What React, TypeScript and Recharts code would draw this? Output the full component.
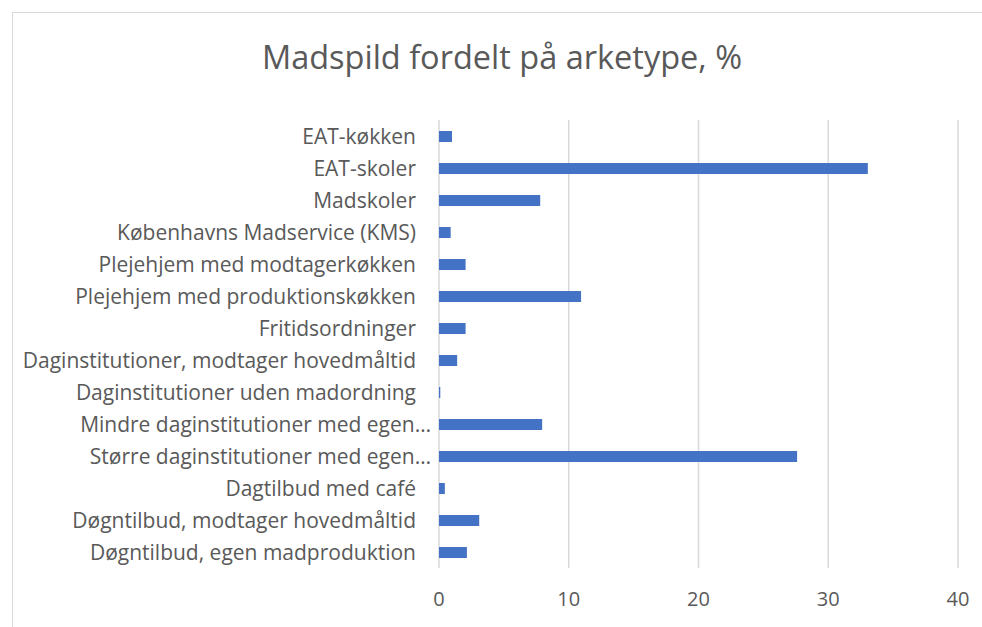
import { BarChart, Bar, XAxis, YAxis, CartesianGrid } from "recharts";

const categories = [
  "EAT-køkken",
  "EAT-skoler",
  "Madskoler",
  "Københavns Madservice (KMS)",
  "Plejehjem med modtagerkøkken",
  "Plejehjem med produktionskøkken",
  "Fritidsordninger",
  "Daginstitutioner, modtager hovedmåltid",
  "Daginstitutioner uden madordning",
  "Mindre daginstitutioner med egen…",
  "Større daginstitutioner med egen…",
  "Dagtilbud med café",
  "Døgntilbud, modtager hovedmåltid",
  "Døgntilbud, egen madproduktion",
];

const values = [1.0, 33.05, 7.8, 0.9, 2.05, 10.95, 2.05, 1.4, 0.1, 7.95, 27.6, 0.45, 3.1, 2.15];

const xTicks = [0, 10, 20, 30, 40];

const data = categories.map((name, i) => ({ name, value: values[i] }));

const FONT = "'Open Sans', Lato, sans-serif";
const TEXT = "#595959";

// Excel-style labels: truncated ones (with "…") sit closer to the axis
function CategoryTick({ x, y, payload }: any) {
  const truncated = String(payload.value).endsWith("…");
  return (
    <text
      x={x - (truncated ? 0 : 15)}
      y={y}
      dy="0.38em"
      textAnchor="end"
      fill={TEXT}
      fontSize={21}
      fontFamily={FONT}
    >
      {payload.value}
    </text>
  );
}

export default function App() {
  return (
    <div
      style={{
        position: "absolute",
        left: 0,
        top: 0,
        width: 982,
        height: 627,
        overflow: "hidden",
        background: "#fff",
      }}
    >
      <div
        style={{
          position: "absolute",
          left: 12,
          top: 12,
          width: 1000,
          height: 700,
          borderLeft: "1px solid #d9d9d9",
          borderTop: "1px solid #d9d9d9",
        }}
      />
      <div
        style={{
          position: "absolute",
          left: 0,
          width: 1004,
          top: 34,
          textAlign: "center",
          fontFamily: FONT,
          fontSize: 32.5,
          color: TEXT,
        }}
      >
        Madspild fordelt på arketype, %
      </div>
      <div style={{ position: "absolute", left: 0, top: 0 }}>
        <BarChart
          width={982}
          height={627}
          data={data}
          layout="vertical"
          margin={{ top: 120, right: 24, left: 0, bottom: 19 }}
          barCategoryGap={21}
        >
          <CartesianGrid horizontal={false} stroke="#d9d9d9" strokeWidth={1.5} />
          <XAxis
            type="number"
            domain={[0, 40]}
            ticks={xTicks}
            axisLine={false}
            tickLine={false}
            tickMargin={18}
            height={40}
            tick={{ fontSize: 20, fill: TEXT, fontFamily: FONT }}
          />
          <YAxis
            type="category"
            dataKey="name"
            width={439}
            axisLine={false}
            tickLine={false}
            interval={0}
            tick={<CategoryTick />}
          />
          <Bar dataKey="value" fill="#4472c4" barSize={11} isAnimationActive={false} />
        </BarChart>
      </div>
    </div>
  );
}
